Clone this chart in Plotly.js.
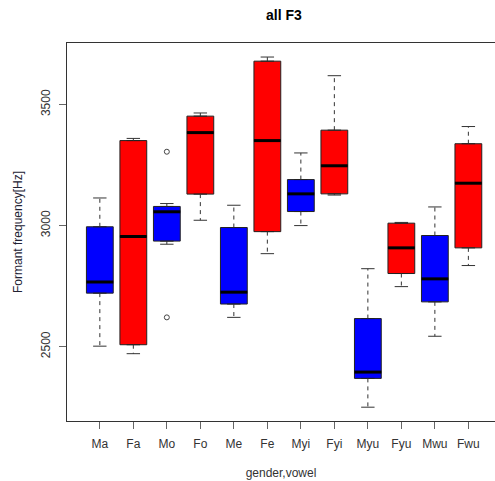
<!DOCTYPE html>
<html>
<head>
<meta charset="utf-8">
<script src="https://cdn.plot.ly/plotly-3.0.1.min.js"></script>
<style>html,body{margin:0;padding:0;background:#fff;}#chart{width:495px;height:481px;}</style>
</head>
<body>
<div id="chart"></div>
<script>
const categories = ['Ma','Fa','Mo','Fo','Me','Fe','Myi','Fyi','Myu','Fyu','Mwu','Fwu'];
const lowerWhisker = [2502, 2471, 2923, 3022, 2621, 2884, 3000, 3126, 2250, 2748, 2543, 2835];
const q1Values     = [2721, 2508, 2936, 3130, 2676, 2975, 3058, 3131, 2369, 2802, 2685, 2908];
const medianValues = [2767, 2955, 3057, 3384, 2725, 3351, 3131, 3247, 2395, 2908, 2780, 3175];
const q3Values     = [2995, 3351, 3079, 3452, 2992, 3679, 3190, 3394, 2616, 3010, 2959, 3338];
const upperWhisker = [3114, 3360, 3091, 3465, 3084, 3696, 3300, 3619, 2822, 3013, 3077, 3409];
const boxColors = ['#0000FF','#FF0000','#0000FF','#FF0000','#0000FF','#FF0000','#0000FF','#FF0000','#0000FF','#FF0000','#0000FF','#FF0000'];
const outlierCategory = ['Mo','Mo'];
const outlierValues = [3305, 2621];
const yTicks = [2500, 3000, 3500];

const FONT = 'Liberation Sans, Arial, sans-serif';
const pos = categories.map((c, i) => i + 1);

const traces = [];
// boxes (one per category so each has its own colour)
categories.forEach((c, i) => {
  traces.push({
    type: 'box', x: [pos[i]], q1: [q1Values[i]], median: [medianValues[i]], q3: [q3Values[i]],
    lowerfence: [q1Values[i]], upperfence: [q3Values[i]],
    width: 0.8, fillcolor: boxColors[i], line: {color: '#222', width: 1},
    hoverinfo: 'skip', showlegend: false
  });
});
// whiskers (dashed)
const wx = [], wy = [];
categories.forEach((c, i) => {
  wx.push(pos[i], pos[i], null, pos[i], pos[i], null);
  wy.push(q3Values[i], upperWhisker[i], null, q1Values[i], lowerWhisker[i], null);
});
traces.push({type: 'scatter', mode: 'lines', x: wx, y: wy, line: {color: '#333', width: 1, dash: '4px,4px'}, hoverinfo: 'skip', showlegend: false});
// caps
const cx = [], cy = [];
categories.forEach((c, i) => {
  cx.push(pos[i] - 0.2, pos[i] + 0.2, null, pos[i] - 0.2, pos[i] + 0.2, null);
  cy.push(upperWhisker[i], upperWhisker[i], null, lowerWhisker[i], lowerWhisker[i], null);
});
traces.push({type: 'scatter', mode: 'lines', x: cx, y: cy, line: {color: '#333', width: 1}, hoverinfo: 'skip', showlegend: false});
// medians (thick)
const mx = [], my = [];
categories.forEach((c, i) => {
  mx.push(pos[i] - 0.4, pos[i] + 0.4, null);
  my.push(medianValues[i], medianValues[i], null);
});
traces.push({type: 'scatter', mode: 'lines', x: mx, y: my, line: {color: '#000', width: 3}, hoverinfo: 'skip', showlegend: false});
// outliers
traces.push({type: 'scatter', mode: 'markers', x: outlierCategory.map(c => categories.indexOf(c) + 1), y: outlierValues,
  marker: {symbol: 'circle-open', size: 5, color: '#444', line: {width: 1}}, hoverinfo: 'skip', showlegend: false});

const layout = {
  width: 495, height: 481,
  margin: {l: 67, r: 0, t: 43, b: 60, pad: 0},
  paper_bgcolor: '#fff', plot_bgcolor: '#fff',
  showlegend: false,
  font: {family: FONT, size: 12, color: '#333'},
  title: {text: '<b>all F3</b>', font: {family: FONT, size: 14, color: '#000'}, xref: 'container', x: 0.5737, xanchor: 'center', yref: 'container', y: 0.969, yanchor: 'middle'},
  xaxis: {
    range: [0.02, 12.795], tickmode: 'array', tickvals: pos, ticktext: categories,
    ticks: 'outside', ticklen: 7, tickcolor: '#666', tickwidth: 1, ticklabelstandoff: 5,
    showline: true, mirror: true, linecolor: '#333', linewidth: 1,
    showgrid: false, zeroline: false,
    tickfont: {family: FONT, size: 12, color: '#333'},
    title: {text: 'gender,vowel', font: {family: FONT, size: 12, color: '#333'}, standoff: 18}
  },
  yaxis: {
    range: [2193, 3754], tickmode: 'array', tickvals: yTicks, ticktext: yTicks.map(String),
    tickangle: -90, ticks: 'outside', ticklen: 7, tickcolor: '#666', tickwidth: 1, ticklabelstandoff: 4,
    showline: true, mirror: false, linecolor: '#333', linewidth: 1,
    showgrid: false, zeroline: false,
    tickfont: {family: FONT, size: 12, color: '#333'},
    title: {text: 'Formant frequency[Hz]', font: {family: FONT, size: 12, color: '#223'}, standoff: 14}
  }
};

Plotly.newPlot('chart', traces, layout, {staticPlot: true, displayModeBar: false});
</script>
</body>
</html>
